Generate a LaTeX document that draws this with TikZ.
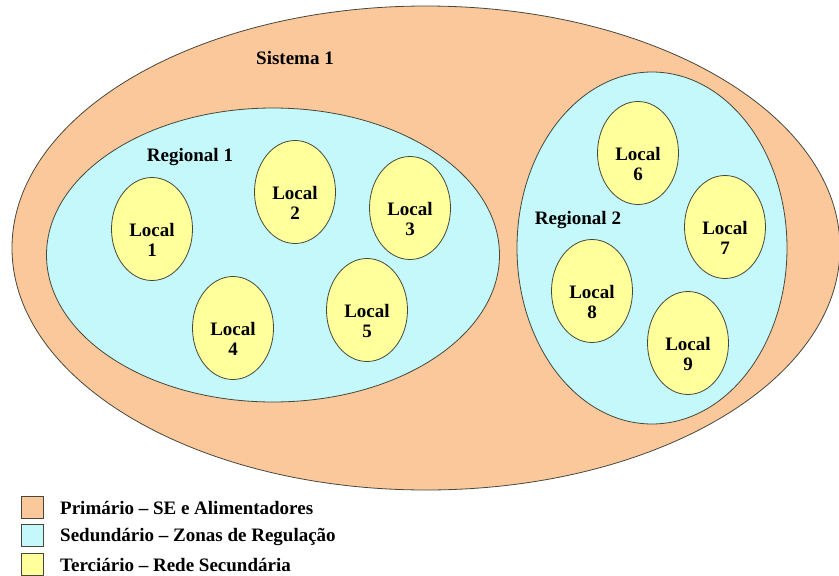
\documentclass[tikz,border=0pt]{standalone}
\usepackage{fontspec}
\setmainfont{Liberation Serif}
\usetikzlibrary{shapes.geometric,positioning}
\definecolor{sisorange}{RGB}{250,200,155}
\definecolor{regcyan}{RGB}{196,248,250}
\definecolor{locyellow}{RGB}{255,255,155}
\definecolor{edgegray}{RGB}{70,72,60}
\tikzset{
  zone/.style={ellipse, draw=edgegray, line width=0.8pt, inner sep=0pt},
  sisbox/.style={zone, fill=sisorange, minimum width=828pt, minimum height=484pt},
  regbox/.style={zone, fill=regcyan},
  locbox/.style={zone, fill=locyellow, minimum width=81pt, minimum height=103pt,
    label={[font=\labfont, align=center, yshift=-11pt]center:#1}},
  keybox/.style={rectangle, draw=edgegray, line width=0.8pt, minimum width=22pt, minimum height=22pt, inner sep=0pt},
  txt/.style={font=\labfont, inner sep=0pt}
}
\newcommand{\labfont}{\fontsize{19}{20}\selectfont\bfseries}

\begin{document}
\begin{tikzpicture}[x=1pt,y=-1pt]
\useasboundingbox (0,0) rectangle (839,576);
% sistema
\node[sisbox] (sis) at (426,248) {};
\node[txt] (sislab) at (295,58) {Sistema 1};
% regionais
\node[regbox, minimum width=453pt, minimum height=294pt] (reg1) at (273,255) {};
\node[regbox, minimum width=270pt, minimum height=352pt] (reg2) at (652,248) {};
\node[txt] (reg1lab) at (190,157) {Regional 1};
\node[txt] (reg2lab) at (578,220) {Regional 2};
% locais
\node[locbox={Local\\1}] (loc1) at (152,229) {};
\node[locbox={Local\\2}] (loc2) at (295,192) {};
\node[locbox={Local\\3}] (loc3) at (410,208) {};
\node[locbox={Local\\4}] (loc4) at (233,328) {};
\node[locbox={Local\\5}] (loc5) at (367,310) {};
\node[locbox={Local\\6}] (loc6) at (638,153) {};
\node[locbox={Local\\7}] (loc7) at (725,227) {};
\node[locbox={Local\\8}] (loc8) at (592,291) {};
\node[locbox={Local\\9}] (loc9) at (688,343) {};
% legenda
\node[keybox, fill=sisorange] (key1) at (32,507) {};
\node[keybox, fill=regcyan] (key2) at (32,535) {};
\node[keybox, fill=locyellow] (key3) at (32,564) {};
\node[txt, anchor=west] (key1lab) at (60,508) {Primário – SE e Alimentadores};
\node[txt, anchor=west] (key2lab) at (60,537) {Sedundário – Zonas de Regulação};
\node[txt, anchor=west] (key3lab) at (60,565) {Terciário – Rede Secundária};
\end{tikzpicture}
\end{document}
